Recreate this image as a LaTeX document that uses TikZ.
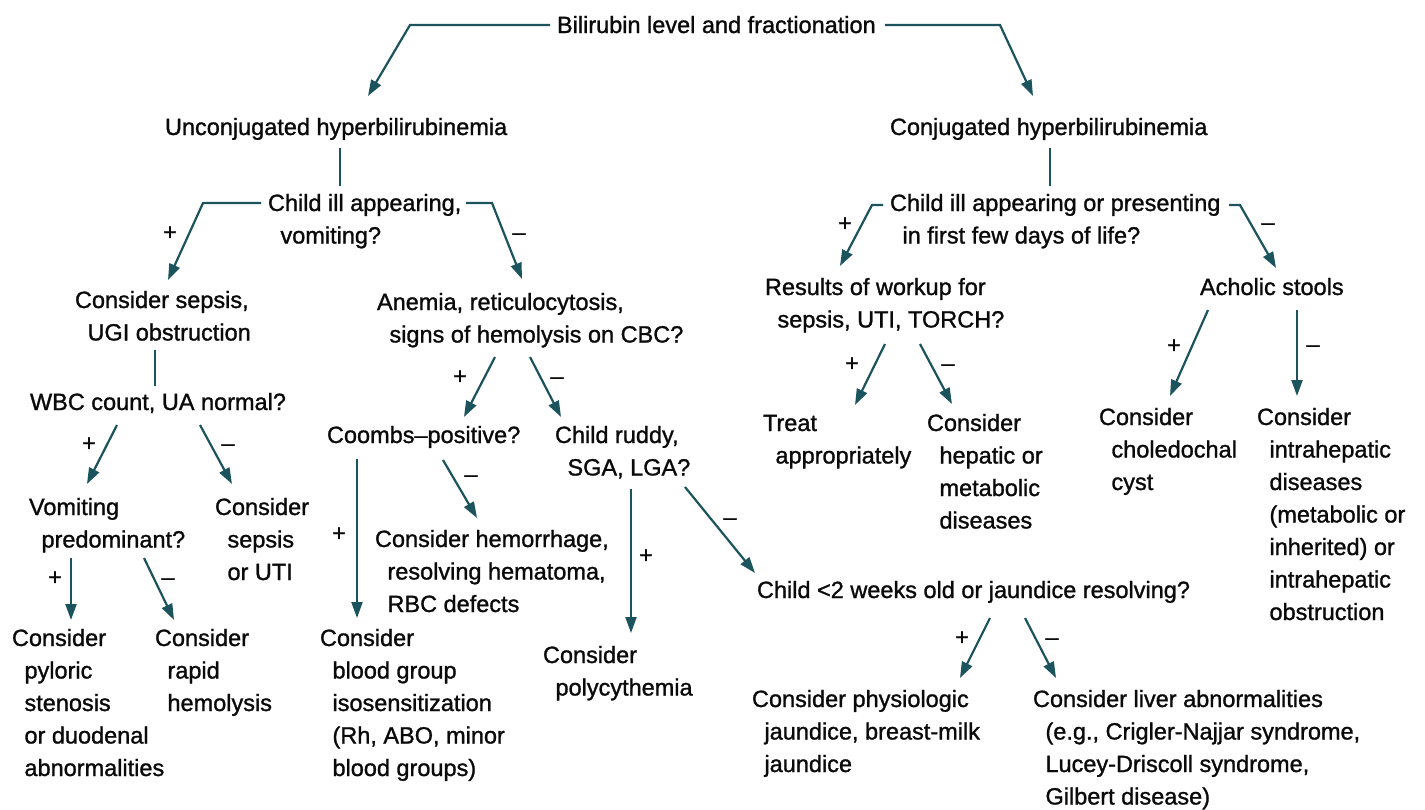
\documentclass[tikz,border=0pt]{standalone}
\usepackage{fontspec}
\setmainfont{Liberation Sans}[BoldFont={Liberation Sans}, BoldFeatures={FakeBold=1.2}]
\usetikzlibrary{arrows.meta}
\definecolor{arrowteal}{RGB}{28,84,94}
\definecolor{txt}{RGB}{10,10,10}
\newcommand\mltext[1]{\begin{tabular}[t]{@{}l@{}}#1\end{tabular}}
\newcommand\myind{\hspace*{12.5pt}}
\begin{document}
\begin{tikzpicture}[x=1pt,y=-1pt,
  every node/.style={inner sep=0pt, outer sep=0pt, text=txt, font=\fontsize{23.5}{32.5}\selectfont\bfseries},
  box/.style={anchor=base west},
  lbl/.style={anchor=base},
  conn/.style={draw=arrowteal, line width=2.2pt, line join=miter},
  arr/.style={conn, -{Triangle[length=16pt,width=11pt]}}]
\fill[white] (0,0) rectangle (1425,809);
\useasboundingbox (0,0) rectangle (1425,809);

% ---- text nodes ----
\node[box] (top) at (557,33) {Bilirubin level and fractionation};
\node[box] (unc) at (165,135) {Unconjugated hyperbilirubinemia};
\node[box] (con) at (890,135) {Conjugated hyperbilirubinemia};
\node[box] (ill1) at (268,211) {\mltext{Child ill appearing,\\\myind vomiting?}};
\node[box] (ill2) at (890,211) {\mltext{Child ill appearing or presenting\\\myind in first few days of life?}};
\node[box] (sepsisUGI) at (75,308) {\mltext{Consider sepsis,\\\myind UGI obstruction}};
\node[box] (anemia) at (377,310) {\mltext{Anemia, reticulocytosis,\\\myind signs of hemolysis on CBC?}};
\node[box] (results) at (765,295) {\mltext{Results of workup for\\\myind sepsis, UTI, TORCH?}};
\node[box] (acholic) at (1200,295) {Acholic stools};
\node[box] (wbc) at (30,410) {WBC count, UA normal?};
\node[box] (coombs) at (327,443) {Coombs–positive?};
\node[box] (ruddy) at (555,443) {\mltext{Child ruddy,\\\myind SGA, LGA?}};
\node[box] (treat) at (763,431) {\mltext{Treat\\\myind appropriately}};
\node[box] (hepatic) at (927,431) {\mltext{Consider\\\myind hepatic or\\\myind metabolic\\\myind diseases}};
\node[box] (choled) at (1099,425) {\mltext{Consider\\\myind choledochal\\\myind cyst}};
\node[box] (intrahep) at (1257,425) {\mltext{Consider\\\myind intrahepatic\\\myind diseases\\\myind (metabolic or\\\myind inherited) or\\\myind intrahepatic\\\myind obstruction}};
\node[box] (vomitpred) at (29,515) {\mltext{Vomiting\\\myind predominant?}};
\node[box] (sepsisUTI) at (215,515) {\mltext{Consider\\\myind sepsis\\\myind or UTI}};
\node[box] (hemorrhage) at (375,547) {\mltext{Consider hemorrhage,\\\myind resolving hematoma,\\\myind RBC defects}};
\node[box] (child2wk) at (757,598) {Child <2 weeks old or jaundice resolving?};
\node[box] (pyloric) at (12,646) {\mltext{Consider\\\myind pyloric\\\myind stenosis\\\myind or duodenal\\\myind abnormalities}};
\node[box] (rapid) at (155,646) {\mltext{Consider\\\myind rapid\\\myind hemolysis}};
\node[box] (bloodgroup) at (320,646) {\mltext{Consider\\\myind blood group\\\myind isosensitization\\\myind (Rh, ABO, minor\\\myind blood groups)}};
\node[box] (polycyth) at (543,663) {\mltext{Consider\\\myind polycythemia}};
\node[box] (physiol) at (752,707) {\mltext{Consider physiologic\\\myind jaundice, breast-milk\\\myind jaundice}};
\node[box] (liver) at (1033,707) {\mltext{Consider liver abnormalities\\\myind (e.g., Crigler-Najjar syndrome,\\\myind Lucey-Driscoll syndrome,\\\myind Gilbert disease)}};

% ---- +/- labels ----
\node[lbl] (pl1) at (170,240) {+};
\node[lbl] (mi1) at (519,240) {–};
\node[lbl] (pl2) at (845,231) {+};
\node[lbl] (mi2) at (1268,230) {–};
\node[lbl] (pl3) at (460,384) {+};
\node[lbl] (mi3) at (557,384) {–};
\node[lbl] (pl4) at (852,371) {+};
\node[lbl] (mi4) at (948,371) {–};
\node[lbl] (pl5) at (1174,353) {+};
\node[lbl] (mi5) at (1313,352) {–};
\node[lbl] (pl6) at (89,451) {+};
\node[lbl] (mi6) at (228,451) {–};
\node[lbl] (pl7) at (339,541) {+};
\node[lbl] (mi7) at (471,482) {–};
\node[lbl] (pl8) at (646,563) {+};
\node[lbl] (mi8) at (730,525) {–};
\node[lbl] (pl9) at (55,585) {+};
\node[lbl] (mi9) at (168,585) {–};
\node[lbl] (pl10) at (962,645) {+};
\node[lbl] (mi10) at (1052,645) {–};

% ---- connectors ----
\draw[arr] ([shift={(-7,-8)}]top.base west) -- ([shift={(-147,-8)}]top.base west) -- ([shift={(203,-39)}]unc.base west);
\draw[arr] ([shift={(328,-8)}]top.base west) -- ([shift={(443,-8)}]top.base west) -- ([shift={(143,-39)}]con.base west);
\draw[conn] ([shift={(175,13)}]unc.base west) -- ([shift={(72,-25)}]ill1.base west);
\draw[conn] ([shift={(160,13)}]con.base west) -- ([shift={(160,-25)}]ill2.base west);
\draw[arr] ([shift={(-7,-8)}]ill1.base west) -- ([shift={(-65,-8)}]ill1.base west) -- ([shift={(93,-28)}]sepsisUGI.base west);
\draw[arr] ([shift={(198,-8)}]ill1.base west) -- ([shift={(224,-8)}]ill1.base west) -- ([shift={(145,-31)}]anemia.base west);
\draw[arr] ([shift={(-7,-6)}]ill2.base west) -- ([shift={(-18,-6)}]ill2.base west) -- ([shift={(75,-29)}]results.base west);
\draw[arr] ([shift={(339,-6)}]ill2.base west) -- ([shift={(350,-6)}]ill2.base west) -- ([shift={(76,-27)}]acholic.base west);
\draw[conn] ([shift={(80,42)}]sepsisUGI.base west) -- ([shift={(125,-24)}]wbc.base west);
\draw[arr] ([shift={(118,47)}]anemia.base west) -- ([shift={(137,-26)}]coombs.base west);
\draw[arr] ([shift={(153,47)}]anemia.base west) -- ([shift={(6,-26)}]ruddy.base west);
\draw[arr] ([shift={(120,49)}]results.base west) -- ([shift={(92,-26)}]treat.base west);
\draw[arr] ([shift={(155,49)}]results.base west) -- ([shift={(25,-27)}]hepatic.base west);
\draw[arr] ([shift={(8,15)}]acholic.base west) -- ([shift={(71,-29)}]choled.base west);
\draw[arr] ([shift={(97,15)}]acholic.base west) -- ([shift={(40,-29)}]intrahep.base west);
\draw[arr] ([shift={(87,15)}]wbc.base west) -- ([shift={(58,-31)}]vomitpred.base west);
\draw[arr] ([shift={(170,15)}]wbc.base west) -- ([shift={(17,-31)}]sepsisUTI.base west);
\draw[arr] ([shift={(30,16)}]coombs.base west) -- ([shift={(37,-28)}]bloodgroup.base west);
\draw[arr] ([shift={(116,17)}]coombs.base west) -- ([shift={(102,-29)}]hemorrhage.base west);
\draw[arr] ([shift={(76,46)}]ruddy.base west) -- ([shift={(88,-30)}]polycyth.base west);
\draw[arr] ([shift={(130,44)}]ruddy.base west) -- ([shift={(-2,-25)}]child2wk.base west);
\draw[arr] ([shift={(42,43)}]vomitpred.base west) -- ([shift={(59,-26)}]pyloric.base west);
\draw[arr] ([shift={(115,43)}]vomitpred.base west) -- ([shift={(19,-26)}]rapid.base west);
\draw[arr] ([shift={(233,20)}]child2wk.base west) -- ([shift={(208,-29)}]physiol.base west);
\draw[arr] ([shift={(268,20)}]child2wk.base west) -- ([shift={(23,-29)}]liver.base west);
\end{tikzpicture}
\end{document}
